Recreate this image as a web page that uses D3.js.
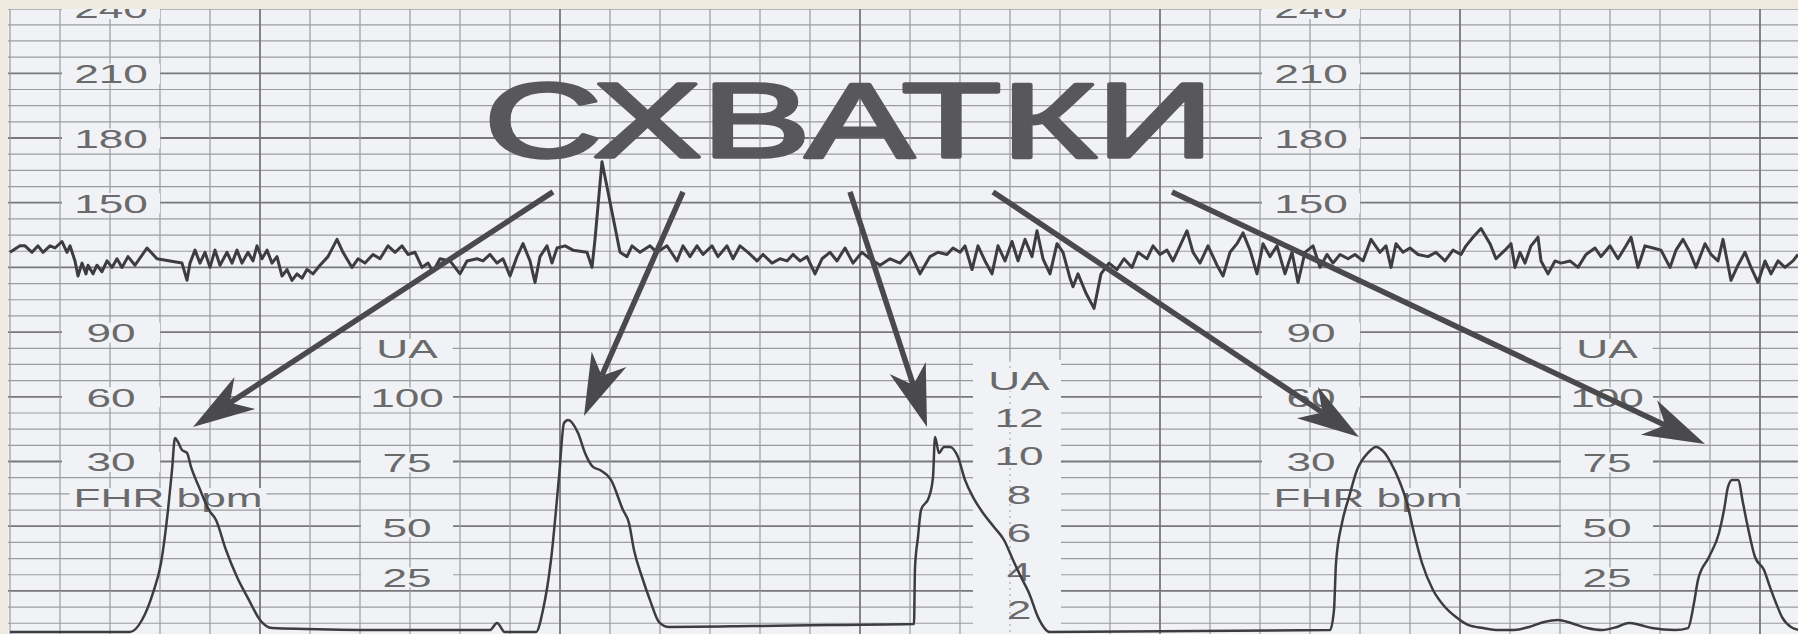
<!DOCTYPE html>
<html>
<head>
<meta charset="utf-8">
<script src="https://cdn.jsdelivr.net/npm/d3@7"></script>
<style>
  html, body { margin: 0; padding: 0; background: #eeeadf; }
  svg { display: block; }
</style>
</head>
<body>
<svg id="chart" width="1798" height="634"></svg>
<script>
// Fetal heart rate trace: [time in s, beats per minute]
const fhrSeries = [
  [0,127],[2,130],[3,130],[4.4,127],[5.6,130],[6.6,127],[8,130],[9,129],[10.4,132],[11.4,127],[12,130],[13,123],[13.6,116],[14.4,122],[15.2,117],[15.6,121],[16.6,117],[17.4,121],[18.4,118],[19.4,123],[20.4,120],[21.4,124],[22.4,120],[23.6,125],[25,121],[27.4,129],[29.4,124],[32,123],[34.4,122],[35.4,114],[36,122],[37,128],[38,122],[39,127],[40,120],[41,128],[42,121],[43.4,127],[44.4,122],[45.4,128],[46.4,122],[47.6,127],[48.6,123],[49.4,130],[50.4,124],[51.4,128],[52.4,122],[53.4,125],[54.4,116],[55.4,119],[56.4,114],[57.4,117],[58.4,115],[59.4,119],[60.6,117],[62,121],[63.6,125],[65.4,133],[66.6,127],[68.4,120],[69.6,124],[71,122],[72.6,126],[74,124],[75.6,130],[77,127],[78.4,130],[79.6,126],[81,127],[82.4,120],[83.6,122],[84.6,118],[86,124],[88,123],[90,117],[91.4,123],[93.4,124],[94.6,123],[96,126],[97.4,122],[98.6,124],[100,116],[101.4,125],[102.6,131],[104,123],[105,113],[106,125],[107.4,130],[108.4,122],[109.4,129],[111,130],[112.6,128],[115.4,127],[116.4,120],[117,133],[118.4,169],[122,127],[123.4,125],[124.4,130],[126,127],[128,130],[129.4,127],[131.4,130],[133.4,123],[134.6,130],[136,125],[137.4,130],[138.6,126],[140.4,130],[141.6,125],[143.4,130],[144.6,124],[146,130],[147.6,127],[149.4,123],[150.6,126],[152.4,122],[154,124],[155.4,123],[156.6,126],[158,123],[159.4,125],[161,117],[162.4,124],[164,127],[165.4,123],[167,129],[168.6,122],[170.4,127],[172,124],[174,121],[176,124],[178,122],[180,127],[182,117],[184,125],[185.6,127],[187.4,126],[188.6,129],[190,127],[191,130],[192.4,119],[193.6,130],[195,123],[196.4,117],[197.6,130],[199,123],[200.4,132],[201.6,123],[203,133],[204.4,125],[205.4,137],[206.6,124],[208,117],[209.4,131],[210.6,127],[212,115],[212.6,111],[213.6,117],[215.2,108],[216.8,101],[218.2,117],[219.8,122],[221.4,119],[222.8,124],[224.4,120],[225.6,127],[227.4,124],[228.6,130],[230,126],[231.4,128],[232.6,123],[234,130],[235.4,137],[236.6,127],[238,122],[239.6,130],[241.4,121],[242.6,116],[244,127],[245.4,131],[246.6,136],[248,128],[249.4,117],[250.6,131],[252,125],[253.4,130],[255,117],[256.4,127],[257.6,113],[259,127],[260.6,130],[262,120],[263.4,126],[264.6,122],[266,126],[267.6,124],[269,126],[270.6,123],[272.2,133],[274,127],[275.2,130],[276.2,120],[277.2,131],[278.6,127],[280,129],[281.6,126],[283.6,125],[285.2,127],[287,123],[288.6,128],[290.2,126],[291.2,130],[292.6,134],[294.2,138],[296,131],[297.2,124],[299,128],[300.2,131],[301,120],[302,127],[303,122],[304.2,130],[305.6,134],[306.2,123],[307.6,117],[309,123],[310.2,122],[312,123],[313.6,120],[315.2,126],[317,129],[318.2,125],[320,130],[321.6,124],[323.2,130],[324.2,134],[325.6,120],[327,130],[328.6,129],[330.2,128],[332,120],[333.2,128],[334.6,133],[336,127],[337.2,120],[339,131],[340.2,126],[341.6,123],[342.6,133],[344.2,114],[345.6,121],[347,127],[348.2,120],[349.6,113],[351,123],[352.2,117],[353.6,123],[355,120],[356.6,123],[357.6,126]
];

// Uterine activity trace: [time in s, UA units]
const uaSeries = [
  [0,0.5],[24,0.4],[26.4,5.8],[28.6,17.9],[30.2,32],[31.6,56.5],[32.4,71.9],[33,84.2],[33.6,82.7],[34.4,79.6],[35.4,78.5],[36.2,73.1],[37.8,65.4],[39.8,56.5],[41.2,52.7],[43.2,38.5],[45.4,25],[47.8,14.7],[50,5.8],[52.4,2.2],[59.2,1.8],[74.6,1.3],[96,1.3],[97.4,4.5],[99,0.4],[105.2,0.4],[106.6,10.3],[108.2,33.5],[109.8,69.2],[110.8,90],[111.6,91.2],[113.6,86.2],[115,78.5],[116.6,73.1],[118,71.9],[120.2,68.1],[122.6,56.5],[123.8,51.5],[124.8,38.5],[126.4,25],[128,14.7],[129.8,4.9],[131.8,2.7],[148.6,3.1],[164,3.6],[180.8,4],[181,29.5],[181.6,45],[182.2,56.5],[183.8,61.5],[184.6,69.2],[185,84.6],[185.8,78.5],[186.8,80.8],[188,80.8],[189.6,76.9],[191,68.1],[192.6,61.5],[194.6,55.4],[196.8,50],[198.8,43.5],[200.6,33.5],[202.2,25],[203.8,17.9],[205.6,7.1],[208,0.4],[264,1.3],[264.8,10.3],[265.2,32],[266.4,51.5],[267.8,61.5],[269.4,71.9],[271.6,78.5],[273.2,80.8],[274.8,78.8],[276.2,74.6],[277.8,68.1],[279.4,59.2],[280.8,47],[282.4,32],[284.6,19.2],[287,11.6],[289.2,7.1],[291.6,3.6],[294.6,2.2],[297.8,1.3],[300.8,1.3],[303.8,2.7],[306.8,4.9],[309.6,5.8],[312.2,4.5],[315.4,2.2],[318.4,1.3],[321.4,2.7],[323.8,4.5],[326,3.6],[328.4,2.2],[333,1.3],[335.6,2.2],[336.8,13.4],[337.6,23.7],[339.8,35],[341.8,47],[342.8,56.5],[343.6,65.4],[344.4,68.1],[345.6,68.1],[346.6,59.2],[347.4,51.5],[349,35],[350.8,28.5],[352,20.5],[353.2,13.4],[354.4,7.1],[356.2,2.7],[358,1.3]
];

// Scale labels printed on the paper
const fhrTicks = [240, 210, 180, 150, 90, 60, 30];
const uaTicks = [100, 75, 50, 25];
const uaMidTicks = [12, 10, 8, 6, 4, 2];
const fhrUnit = "FHR bpm";
const uaUnit = "UA";
const titleText = "СХВАТКИ";

// Annotation arrows: tail on the heart-rate grid [s, bpm], head on a contraction [s, UA]
const arrowFrom = [[108.6,155],[134.6,155],[168,155],[196.6,155],[232.4,155]];
const arrowTo   = [[36.6,88.5],[114.8,92.7],[183.4,88.5],[269.8,84.6],[339,81.9]];

// ---- appearance ----
const W = 1798, H = 634;
const FRAME = "#eeeadf", PAPER = "#f1f2f6";
const GRID = "#9c9ca0", GRID_MAJOR = "#78787c";
const LABEL = "#6a6a6c", TITLE = "#58585b", TRACE = "#3d3d40", ARROW = "#4a4a4d";
const FONT = "'Liberation Sans', Arial, Helvetica, sans-serif";
const SX = 1.7;          // printed labels are horizontally wide
const LFS = 26;          // label font size

const svg = d3.select("#chart");

// Time runs left to right, 10 s per small square
const x = d3.scaleLinear().domain([0, 360]).range([10, 1810]);
const yF = d3.scaleLinear().domain([240, 30]).range([8.6, 461.5]);
const yU = d3.scaleLinear().domain([0, 25, 50, 75, 100]).range([633, 577, 527, 462, 397]);
const yM = d3.scaleLinear().domain([0, 12]).range([647.5, 417]);

svg.append("rect").attr("width", W).attr("height", H).attr("fill", FRAME);
svg.append("defs").append("clipPath").attr("id", "paperClip")
  .append("rect").attr("x", 8).attr("y", 9).attr("width", W - 8).attr("height", H - 9);

const paper = svg.append("g").attr("clip-path", "url(#paperClip)");
paper.append("rect").attr("x", 8).attr("y", 9).attr("width", W - 8).attr("height", H - 9).attr("fill", PAPER);

// ---- grid ----
const rows = d3.range(0, 39).map(i => ({ v: 240 - 7.5 * i, major: i % 4 === 0 }));
const cols = d3.range(0, 36).map(i => ({ t: i * 10, major: (i * 10 - 50) % 60 === 0 }));
const grid = paper.append("g");
grid.selectAll("line.h").data(rows).join("line")
  .attr("x1", 8).attr("x2", W)
  .attr("y1", d => yF(d.v)).attr("y2", d => yF(d.v))
  .attr("stroke", d => d.major ? GRID_MAJOR : GRID)
  .attr("stroke-width", d => d.major ? 1.8 : 1.2);
grid.selectAll("line.v").data(cols).join("line")
  .attr("y1", 9).attr("y2", H)
  .attr("x1", d => x(d.t)).attr("x2", d => x(d.t))
  .attr("stroke", d => d.major ? GRID_MAJOR : GRID)
  .attr("stroke-width", d => d.major ? 1.8 : 1.2);

// blank column behind the small UA scale
paper.append("rect").attr("x", 973).attr("y", 360).attr("width", 88).attr("height", H - 360).attr("fill", PAPER);
paper.append("line").attr("x1", x(200)).attr("x2", x(200)).attr("y1", 360).attr("y2", H)
  .attr("stroke", GRID).attr("stroke-width", 1).attr("stroke-dasharray", "2,4");

// ---- printed scales ----
function scaleColumn(scale, ticks, cx, colW) {
  const g = paper.append("g").attr("transform", `translate(${cx},0)`)
    .call(d3.axisRight(scale).tickValues(ticks).tickSize(0).tickPadding(0));
  g.attr("font-size", null).attr("font-family", null);
  g.select(".domain").remove();
  g.selectAll(".tick").insert("rect", "text")
    .attr("x", -colW / 2).attr("y", -10).attr("width", colW).attr("height", 20).attr("fill", PAPER);
  g.selectAll(".tick text")
    .attr("x", 0).attr("dy", "0.36em")
    .attr("text-anchor", "middle")
    .attr("transform", `scale(${SX},1)`)
    .attr("fill", LABEL)
    .style("font-family", FONT).style("font-size", LFS + "px");
  return g;
}
function plainLabel(text, cx, cy, padded) {
  const g = paper.append("g").attr("transform", `translate(${cx},${cy})`);
  const bg = g.append("rect").attr("fill", PAPER);
  const t = g.append("text").text(text)
    .attr("text-anchor", "middle").attr("dy", "0.36em")
    .attr("transform", `scale(${SX},1)`)
    .attr("fill", LABEL)
    .style("font-family", FONT).style("font-size", LFS + "px");
  const w = t.node().getComputedTextLength() * SX + padded;
  bg.attr("x", -w / 2).attr("y", -10).attr("width", w).attr("height", 20);
}

[0, 1200].forEach(dx => {
  scaleColumn(yF, fhrTicks, 111 + dx, 98);
  scaleColumn(yU, uaTicks, 407 + dx, 92);
  plainLabel(fhrUnit, 168 + dx, 498, 8);
  plainLabel(uaUnit, 407 + dx, 349, 30);
});
scaleColumn(yM, uaMidTicks, 1019, 0);
plainLabel(uaUnit, 1019, 381, 0);

// ---- traces ----
paper.append("path").datum(uaSeries)
  .attr("fill", "none").attr("stroke", TRACE).attr("stroke-width", 2.5)
  .attr("stroke-linejoin", "round")
  .attr("d", d3.line().x(d => x(d[0])).y(d => yU(d[1])).curve(d3.curveMonotoneX));

paper.append("path").datum(fhrSeries)
  .attr("fill", "none").attr("stroke", TRACE).attr("stroke-width", 3)
  .attr("stroke-linejoin", "round")
  .attr("d", d3.line().x(d => x(d[0])).y(d => yF(d[1])));

// ---- heading (regular face thickened with a matching outline) ----
const title = paper.append("text").text(titleText)
  .attr("fill", TITLE).attr("stroke", TITLE).attr("stroke-width", 3.5)
  .attr("stroke-linejoin", "round")
  .style("font-family", FONT).style("font-size", "106px");
{
  const bb = title.node().getBBox();
  const s = 730 / bb.width;
  title.attr("transform", `translate(${484 - bb.x * s},157) scale(${s},1)`);
}

// ---- arrows ----
const arrows = paper.append("g");
arrowFrom.forEach((a, i) => {
  const p0 = [x(a[0]), yF(a[1])];
  const p1 = [x(arrowTo[i][0]), yU(arrowTo[i][1])];
  const dx = p1[0] - p0[0], dy = p1[1] - p0[1];
  const len = Math.hypot(dx, dy);
  const ux = dx / len, uy = dy / len, nx = -uy, ny = ux;
  const L = 62, HW = 19, N = 44;
  arrows.append("line")
    .attr("x1", p0[0]).attr("y1", p0[1])
    .attr("x2", p1[0] - ux * N).attr("y2", p1[1] - uy * N)
    .attr("stroke", ARROW).attr("stroke-width", 5.5);
  const head = [
    [p1[0], p1[1]],
    [p1[0] - ux * L + nx * HW, p1[1] - uy * L + ny * HW],
    [p1[0] - ux * N, p1[1] - uy * N],
    [p1[0] - ux * L - nx * HW, p1[1] - uy * L - ny * HW]
  ];
  arrows.append("path").attr("d", d3.line()(head) + "Z").attr("fill", ARROW);
});
</script>
</body>
</html>
